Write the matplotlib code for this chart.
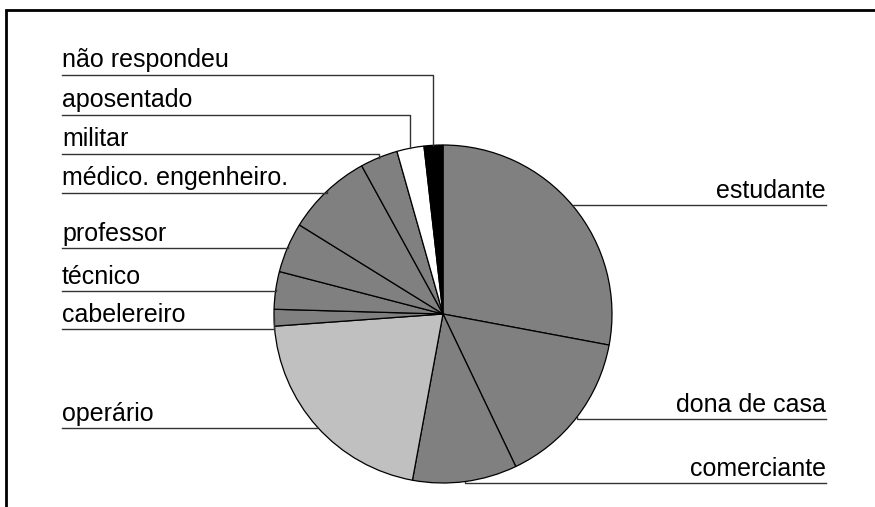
import matplotlib
matplotlib.use("Agg")
import matplotlib.pyplot as plt
import numpy as np

plt.rcParams["font.family"] = ["Liberation Sans", "DejaVu Sans"]

# share of each occupation, clockwise from 12 o'clock
labels = ["estudante", "dona de casa", "comerciante", "operário", "cabelereiro",
          "técnico", "professor", "médico. engenheiro.", "militar", "aposentado",
          "não respondeu"]
values = [28.0, 15.0, 10.0, 21.0, 1.6, 3.6, 4.8, 8.2, 3.6, 2.6, 1.8]
colors = ["#808080", "#808080", "#808080", "#c0c0c0", "#808080", "#808080",
          "#808080", "#808080", "#808080", "#ffffff", "#000000"]

# label rows (pixel y from top) and which side they sit on
label_y = [205, 419, 483, 428, 329, 291, 248, 193, 154, 115, 75]
label_side = ["r", "r", "r", "l", "l", "l", "l", "l", "l", "l", "l"]

W, H = 875, 507
cx, cy, r = 443, H - 314, 169

fig = plt.figure(figsize=(W / 100, H / 100), dpi=100)
ax = fig.add_axes([0, 0, 1, 1])

wedges, _ = ax.pie(values, colors=colors, startangle=90, counterclock=False,
                   center=(cx, cy), radius=r, frame=True,
                   wedgeprops=dict(edgecolor="black", linewidth=0.9))
ax.set_xlim(0, W)
ax.set_ylim(0, H)
ax.set_aspect("equal")
ax.axis("off")

for w, lab, ly, side in zip(wedges, labels, label_y, label_side):
    mid = np.deg2rad((w.theta1 + w.theta2) / 2)
    ex, ey = cx + r * np.cos(mid), cy + r * np.sin(mid)
    y = H - ly
    if side == "l":
        ax.plot([62, ex, ex], [y, y, ey], color="#333333", lw=1)
        ax.text(62, y + 7.5, lab, ha="left", va="baseline", fontsize=18)
    else:
        ax.plot([ex, ex, 826], [ey, y, y], color="#333333", lw=1)
        ax.text(826, y + 7.5, lab, ha="right", va="baseline", fontsize=18)

# chart area border (top and left visible)
ax.plot([6, 6, W], [0, H - 10, H - 10], color="black", lw=2,
        solid_joinstyle="miter")

fig.savefig("out.png", dpi=100)
